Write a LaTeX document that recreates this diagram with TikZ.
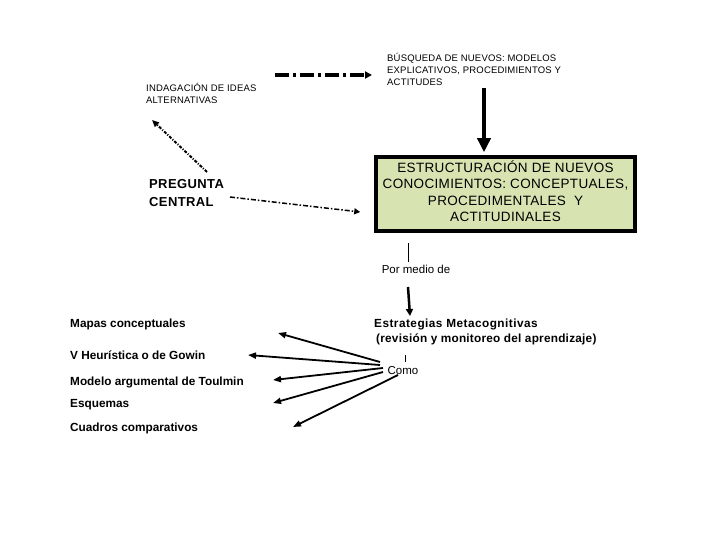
\documentclass[tikz,border=0pt]{standalone}
\usepackage{fontspec}
\setmainfont{Liberation Sans}
\usetikzlibrary{arrows.meta,positioning}
\definecolor{boxgreen}{RGB}{215,228,178}

\begin{document}
\begin{tikzpicture}[x=1pt, y=-1pt,
        caps/.style={font=\fontsize{9.5}{12}\selectfont\addfontfeature{LetterSpace=2}, align=left, anchor=west, inner sep=0pt},
        central/.style={draw, line width=3.5pt, fill=boxgreen, minimum width=259pt, minimum height=74pt, text depth=6pt,
        align=center, font=\fontsize{13.5}{16.3}\selectfont\addfontfeature{LetterSpace=2.5}},
        strong/.style={font=\bfseries\fontsize{11.8}{15}\selectfont, align=left, anchor=west, inner sep=0pt},
        linktext/.style={font=\fontsize{11.5}{14}\selectfont, inner sep=1pt},
        dashdot/.style={line width=3.5pt, dash pattern=on 14pt off 4pt on 3pt off 4pt, -{Triangle[length=7pt,width=7pt]}},
        heavy/.style={line width=3.5pt, -{Triangle[length=14pt,width=13pt]}},
        dotline/.style={line width=2pt, dash pattern=on 3pt off 1.5pt on 1pt off 1.5pt, -{Triangle[length=7pt,width=6pt]}},
        thindashdot/.style={line width=1.5pt, dash pattern=on 5pt off 2pt on 1.5pt off 2pt, -{Triangle[length=6pt,width=6pt]}},
        midarrow/.style={line width=2.5pt, -{Triangle[length=7pt,width=7pt]}},
        fan/.style={line width=1.8pt, -{Triangle[length=8pt,width=6pt]}},]
        \useasboundingbox (0,0) rectangle (720,540);

        \node (indaga) [caps] at (146,93) {INDAGACIÓN DE IDEAS\\ALTERNATIVAS};
        \node (busqueda) [caps] at (387,69) {BÚSQUEDA DE NUEVOS: MODELOS\\EXPLICATIVOS, PROCEDIMIENTOS Y\\ACTITUDES};
        \node (box) [central] at (505.5,194) {ESTRUCTURACIÓN DE NUEVOS\\CONOCIMIENTOS: CONCEPTUALES,\\PROCEDIMENTALES~ Y\\ACTITUDINALES};
        \node (pregunta) [strong, font=\bfseries\fontsize{13}{18}\selectfont\addfontfeature{LetterSpace=3}] at (149,193) {PREGUNTA\\CENTRAL};
        \node (pormedio) [linktext] at (416,269) {Por medio de};
        \node (estrategias) [strong] at (374,332) {{\addfontfeature{LetterSpace=4}Estrategias Metacognitivas}\\\hspace{2pt}{\addfontfeature{LetterSpace=2}(revisión y monitoreo del aprendizaje)}};
        \node (como) [linktext] at (403,371) {Como};

        \node (mapas) [strong] at (70,324) {Mapas conceptuales};
        \node (gowin) [strong] at (70,355) {V Heurística o de Gowin};
        \node (toulmin) [strong] at (70,382) {Modelo argumental de Toulmin};
        \node (esquemas) [strong] at (70,405) {Esquemas};
        \node (cuadros) [strong] at (70,428) {Cuadros comparativos};

        \draw [dashdot] ([shift={(129,-18)}]indaga.west) -- ([shift={(-15,6)}]busqueda.west);
        \draw [heavy] ([shift={(97,19)}]busqueda.west) -- ([shift={(-21.5,-3)}]box.north);
        \draw [dotline] ([shift={(58,-21)}]pregunta.west) -- ([shift={(6,27)}]indaga.west);
        \draw [thindashdot] ([shift={(81,4)}]pregunta.west) -- ([shift={(-14,18)}]box.west);

        \draw [line width=1pt] ([shift={(-8,-7)}]pormedio.center) -- ([shift={(-97.5,10)}]box.south);
        \draw [midarrow] ([shift={(-8,18)}]pormedio.center) -- ([shift={(36,-16)}]estrategias.west);
        \draw [line width=1pt] ([shift={(2,-9)}]como.center) -- ([shift={(31,23)}]estrategias.west);

        \draw [fan] ([shift={(-23,-9)}]como.center) -- ([shift={(208,9)}]mapas.west);
        \draw [fan] ([shift={(-23,-6)}]como.center) -- ([shift={(178,0)}]gowin.west);
        \draw [fan] ([shift={(-20,-3)}]como.center) -- ([shift={(203,-2)}]toulmin.west);
        \draw [fan] ([shift={(-20,1)}]como.center) -- ([shift={(203,-2)}]esquemas.west);
        \draw [fan] ([shift={(-5,4)}]como.center) -- ([shift={(223,-1)}]cuadros.west);
    \end{tikzpicture}
\end{document}
